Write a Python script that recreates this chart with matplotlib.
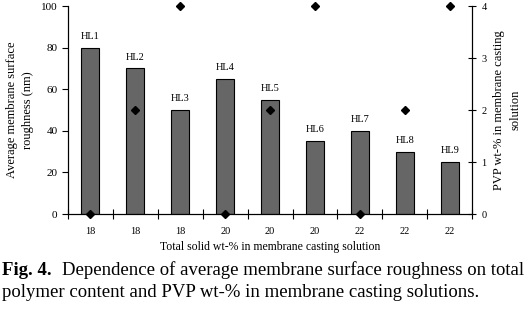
import numpy as np
import matplotlib
matplotlib.use('Agg')
import matplotlib.pyplot as plt

plt.rcParams['font.family'] = ['Liberation Serif', 'DejaVu Serif']

names = ['HL1', 'HL2', 'HL3', 'HL4', 'HL5', 'HL6', 'HL7', 'HL8', 'HL9']
solid = ['18', '18', '18', '20', '20', '20', '22', '22', '22']
roughness = [80, 70, 50, 65, 55, 35, 40, 30, 25]
pvp = [0, 2, 4, 0, 2, 4, 0, 2, 4]

fig = plt.figure(figsize=(5.25, 3.19), dpi=100)
ax = fig.add_axes([0.1295, 0.329, 0.77, 0.652])
x = np.arange(len(names))

ax.bar(x, roughness, width=0.4, color='#666666', edgecolor='black', linewidth=0.8, zorder=2)
for xi, v, n in zip(x, roughness, names):
	ax.annotate(n, (xi, v), xytext=(0, 5), textcoords='offset points',
				ha='center', va='bottom', fontsize=7.5)

ax.set_xlim(-0.5, len(names) - 0.5)
ax.set_ylim(0, 100)
ax.set_yticks(range(0, 101, 20))
ax.set_xticks(x)
ax.set_xticklabels(solid, fontsize=7.5)
ax.tick_params(axis='x', length=0, pad=9)
ax.set_xticks(np.arange(-0.5, len(names), 1), minor=True)
ax.tick_params(axis='x', which='minor', direction='inout', length=7, width=0.8)
ax.tick_params(axis='y', labelsize=8, direction='out', length=4, width=0.8)
ax.spines['top'].set_visible(False)
for s in ['left', 'bottom', 'right']:
	ax.spines[s].set_linewidth(0.8)
ax.set_ylabel('Average membrane surface\nroughness (nm)', fontsize=9, labelpad=5, linespacing=1.5)
ax.set_xlabel('Total solid wt-% in membrane casting solution', fontsize=8.5, labelpad=4)

ax2 = ax.twinx()
ax2.plot(x, pvp, 'D', color='black', markersize=4, clip_on=False, zorder=3)
ax2.set_ylim(0, 4)
ax2.set_yticks(range(0, 5))
ax2.tick_params(axis='y', labelsize=7.5, direction='inout', length=6, width=0.8)
ax2.spines['top'].set_visible(False)
ax2.spines['right'].set_linewidth(0.8)
ax2.set_ylabel('PVP wt-% in membrane casting\nsolution', fontsize=9, labelpad=5, linespacing=1.4)

fig.text(0.004, 0.138, 'Fig. 4.', fontsize=13.5, fontweight='bold', va='baseline')
fig.text(0.118, 0.138, 'Dependence of average membrane surface roughness on total',
		 fontsize=13.5, va='baseline')
fig.text(0.004, 0.069, 'polymer content and PVP wt-% in membrane casting solutions.',
		 fontsize=13.5, va='baseline')

fig.savefig('out.png', dpi=100)
